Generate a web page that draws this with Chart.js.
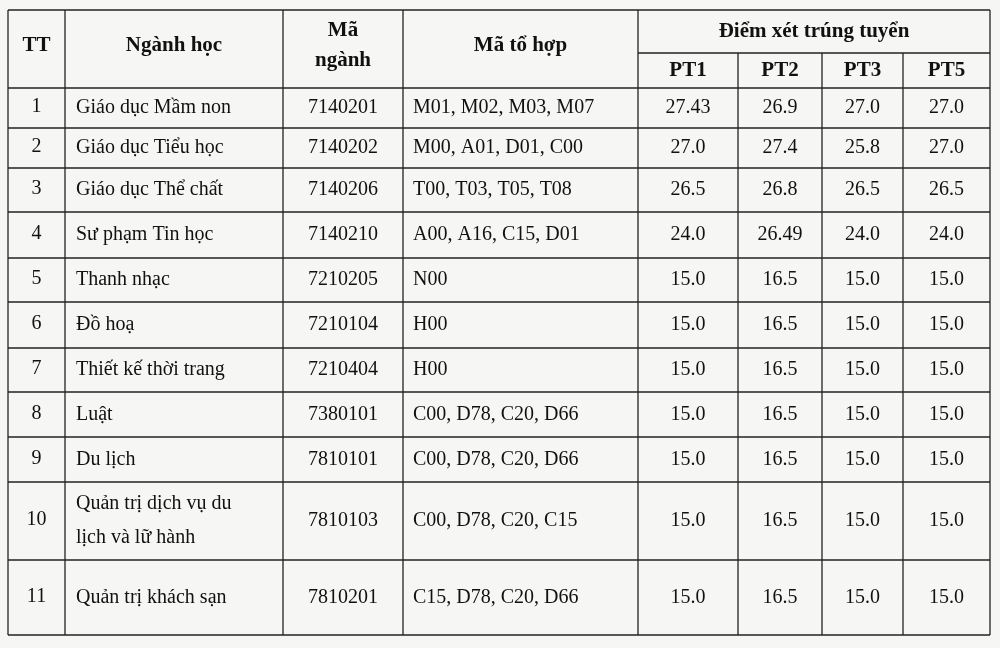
<!DOCTYPE html>
<html><head><meta charset="utf-8">
<script src="https://cdn.jsdelivr.net/npm/chart.js@4"></script>
<style>html,body{margin:0;padding:0;background:#f6f6f4}#w{width:1000px;height:648px}</style>
</head><body><div id="w"><canvas id="c"></canvas></div>
<script>
const headers = ["TT","Ngành học","Mã ngành","Mã tổ hợp","Điểm xét trúng tuyển"];
const subHeaders = ["PT1","PT2","PT3","PT5"];
const tt = ["1","2","3","4","5","6","7","8","9","10","11"];
const majors = ["Giáo dục Mầm non","Giáo dục Tiểu học","Giáo dục Thể chất","Sư phạm Tin học","Thanh nhạc","Đồ hoạ","Thiết kế thời trang","Luật","Du lịch","Quản trị dịch vụ du\nlịch và lữ hành","Quản trị khách sạn"];
const codes = ["7140201","7140202","7140206","7140210","7210205","7210104","7210404","7380101","7810101","7810103","7810201"];
const combos = ["M01, M02, M03, M07","M00, A01, D01, C00","T00, T03, T05, T08","A00, A16, C15, D01","N00","H00","H00","C00, D78, C20, D66","C00, D78, C20, D66","C00, D78, C20, C15","C15, D78, C20, D66"];
const pt1 = ["27.43","27.0","26.5","24.0","15.0","15.0","15.0","15.0","15.0","15.0","15.0"];
const pt2 = ["26.9","27.4","26.8","26.49","16.5","16.5","16.5","16.5","16.5","16.5","16.5"];
const pt3 = ["27.0","25.8","26.5","24.0","15.0","15.0","15.0","15.0","15.0","15.0","15.0"];
const pt5 = ["27.0","27.0","26.5","24.0","15.0","15.0","15.0","15.0","15.0","15.0","15.0"];

const colX = [8,65,283,403,638,738,822,903,990];
const rowY = [10,53,88,128,168,212,258,302,348,392,437,482,560,635];

const tablePlugin = {
  id:'table',
  afterDraw(chart){
    const ctx = chart.ctx, xs = chart.scales.x, ys = chart.scales.y;
    const X = v=>xs.getPixelForValue(v), Y = v=>ys.getPixelForValue(v);
    ctx.save();
    ctx.strokeStyle = '#222'; ctx.lineWidth = 1.3;
    const line=(x1,y1,x2,y2)=>{ctx.beginPath();ctx.moveTo(X(x1),Y(y1));ctx.lineTo(X(x2),Y(y2));ctx.stroke();};
    line(colX[0],rowY[0],colX[8],rowY[0]);
    line(colX[4],rowY[1],colX[8],rowY[1]);
    for(let i=2;i<rowY.length;i++) line(colX[0],rowY[i],colX[8],rowY[i]);
    colX.forEach((x,i)=>{ line(x, (i>4&&i<8)?rowY[1]:rowY[0], x, rowY[rowY.length-1]); });
    ctx.fillStyle='#111'; ctx.textBaseline='middle';
    const txt=(s,x,y,align,bold,gap)=>{
      ctx.font=(bold?'bold 21px':'20px')+' "Liberation Serif"';
      ctx.textAlign=align;
      const lines=s.split('\n'); const g=gap||34;
      lines.forEach((l,k)=>ctx.fillText(l,X(x),Y(y+(k-(lines.length-1)/2)*g)));
    };
    const cx=i=>(colX[i]+colX[i+1])/2;
    const hy=(rowY[0]+rowY[2])/2;
    txt("TT",cx(0),hy-3,'center',true);
    txt("Ngành học",cx(1),hy-3,'center',true);
    txt("Mã\nngành",cx(2),hy-3,'center',true,30);
    txt("Mã tổ hợp",cx(3),hy-3,'center',true);
    txt(headers[4],(colX[4]+colX[8])/2,(rowY[0]+rowY[1])/2,'center',true);
    subHeaders.forEach((s,i)=>txt(s,cx(4+i),(rowY[1]+rowY[2])/2,'center',true));
    for(let r=0;r<tt.length;r++){
      const y=(rowY[r+2]+rowY[r+3])/2;
      txt(tt[r],cx(0),y-1,'center',false);
      txt(majors[r],colX[1]+11,y,'left',false);
      txt(codes[r],cx(2),y,'center',false);
      txt(combos[r],colX[3]+10,y,'left',false);
      [pt1,pt2,pt3,pt5].forEach((a,i)=>txt(a[r],cx(4+i),y,'center',false));
    }
    ctx.restore();
  }
};

new Chart(document.getElementById('c'),{
  type:'scatter',
  data:{datasets:[{data:[]}]},
  options:{
    responsive:true,maintainAspectRatio:false,animation:false,
    layout:{padding:0},
    plugins:{legend:{display:false},tooltip:{enabled:false}},
    scales:{
      x:{type:'linear',min:0,max:1000,display:false},
      y:{type:'linear',min:0,max:648,reverse:true,display:false}
    }
  },
  plugins:[tablePlugin]
});
</script></body></html>
